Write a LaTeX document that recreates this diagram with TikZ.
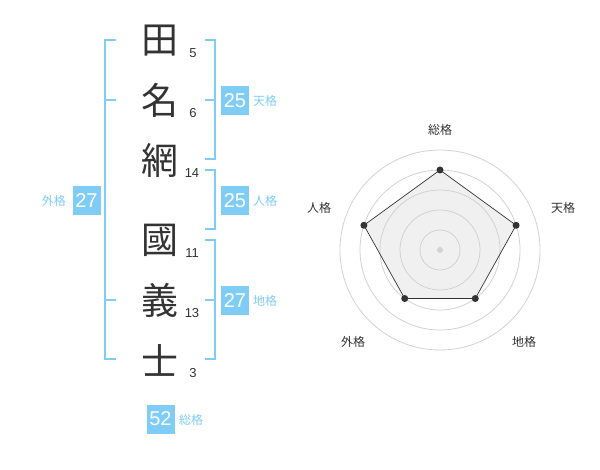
\documentclass[tikz,border=0pt]{standalone}
\usepackage{fontspec}
\setmainfont{Liberation Sans}
\newfontfamily\cjk{Noto Sans CJK JP}
\definecolor{bl}{RGB}{127,204,247}
\definecolor{txt}{RGB}{51,51,51}
\definecolor{ring}{RGB}{210,210,210}
\definecolor{fillg}{RGB}{240,240,240}
\begin{document}
\begin{tikzpicture}[x=1pt,y=-1pt,
  kanji/.style={font=\cjk\fontsize{37}{37}\selectfont, text=txt, inner sep=0pt},
  stroke/.style={font=\fontsize{13}{13}\selectfont, text=txt, inner sep=0pt},
  valbox/.style={fill=bl, text=white, font=\fontsize{20}{20}\selectfont, minimum width=28pt, minimum height=29pt, inner sep=0pt},
  vlabel/.style={text=bl, font=\cjk\fontsize{12}{12}\selectfont, inner sep=0pt},
  brk/.style={draw=bl, line width=2pt},
  rlabel/.style={text=txt, font=\cjk\fontsize{12}{12}\selectfont, inner sep=0pt},
  dot/.style={circle, fill=txt, inner sep=0pt, minimum size=7pt}]
\useasboundingbox (0,0) rectangle (600,470);
\fill[white] (0,0) rectangle (600,470);
% kanji
\node[kanji] (k1) at (160,41) {田};
\node[kanji] (k2) at (160,100) {名};
\node[kanji] (k3) at (160,160) {網};
\node[kanji] (k4) at (160,240) {國};
\node[kanji] (k5) at (160,300) {義};
\node[kanji] (k6) at (160,360) {士};
% stroke counts
\node[stroke] (s1) at (193,53) {5};
\node[stroke] (s2) at (193,113) {6};
\node[stroke] (s3) at (192,173) {14};
\node[stroke] (s4) at (192,253) {11};
\node[stroke] (s5) at (192,313) {13};
\node[stroke] (s6) at (193,373) {3};
% brackets
\draw[brk] (116,40) -- (105,40) -- (105,359) -- (116,359);
\draw[brk] (105,100) -- (116,100);
\draw[brk] (105,300) -- (116,300);
\draw[brk] (205,40) -- (215,40) -- (215,159) -- (205,159);
\draw[brk] (205,100) -- (215,100);
\draw[brk] (205,170) -- (215,170) -- (215,229) -- (205,229);
\draw[brk] (205,240) -- (215,240) -- (215,359) -- (205,359);
\draw[brk] (205,300) -- (215,300);
% value boxes
\node[valbox] (b1) at (235,100.5) {25};
\node[vlabel, anchor=west] (l1) at (253,101) {天格};
\node[valbox] (b2) at (235,200.5) {25};
\node[vlabel, anchor=west] (l2) at (253,201) {人格};
\node[valbox] (b3) at (235,300.5) {27};
\node[vlabel, anchor=west] (l3) at (253,301) {地格};
\node[valbox] (b4) at (86.5,200.5) {27};
\node[vlabel, anchor=east] (l4) at (66,201) {外格};
\node[valbox] (b5) at (160.5,419) {52};
\node[vlabel, anchor=west] (l5) at (179,420) {総格};
% radar chart
\coordinate (c) at (440,250);
\coordinate (p1) at (440,170);
\coordinate (p2) at ({440+80*cos(18)},{250-80*sin(18)});
\coordinate (p3) at ({440+60*cos(54)},{250+60*sin(54)});
\coordinate (p4) at ({440-60*cos(54)},{250+60*sin(54)});
\coordinate (p5) at ({440-80*cos(18)},{250-80*sin(18)});
\fill[fillg] (p1) -- (p2) -- (p3) -- (p4) -- (p5) -- cycle;
\foreach \r in {20,40,60,80,100} \draw[ring, line width=0.8pt] (c) circle[radius=\r];
\draw[txt, line width=0.7pt] (p1) -- (p2) -- (p3) -- (p4) -- (p5) -- cycle;
\foreach \p in {p1,p2,p3,p4,p5} \node[dot] at (\p) {};
\node[circle, fill=ring, inner sep=0pt, minimum size=6pt] (cd) at (c) {};
\node[rlabel] (r1) at (440,130) {総格};
\node[rlabel] (r2) at (563,208) {天格};
\node[rlabel] (r3) at (524,342) {地格};
\node[rlabel] (r4) at (353,342) {外格};
\node[rlabel] (r5) at (319,208) {人格};
\end{tikzpicture}
\end{document}
